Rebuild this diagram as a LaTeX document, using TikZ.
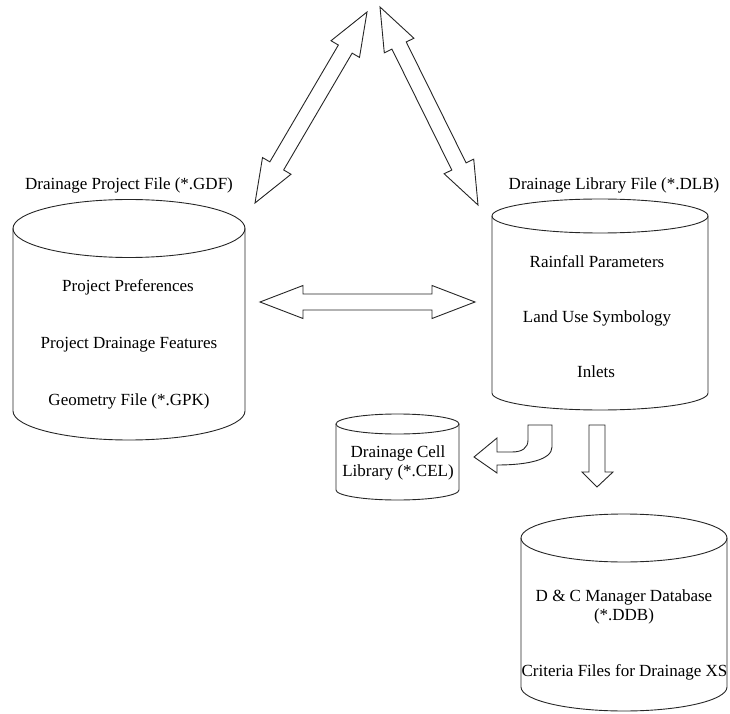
\documentclass[tikz,border=0pt]{standalone}
\usepackage{fontspec}
\setmainfont{Liberation Serif}
\usetikzlibrary{calc}

% drum: centre x, top y, bottom y, x radius, y radius
\newcommand{\drum}[5]{%
  \draw[drum] (#1,#2) ellipse [x radius=#4, y radius=#5];
  \draw[drum] (#1-#4,#2) -- (#1-#4,#3)
    arc [start angle=180, end angle=360, x radius=#4, y radius=#5]
    -- (#1+#4,#2);
}
\newcommand{\arrowhl}{43pt}
\newcommand{\arrowhw}{16.5pt}
\newcommand{\arrowsw}{8pt}
% two way block arrow between two tips
\newcommand{\twoway}[2]{%
  \draw[blockarrow] (#1)
    -- ($(#1)!\arrowhl!(#2)!\arrowhw!90:(#2)$)
    -- ($(#1)!\arrowhl!(#2)!\arrowsw!90:(#2)$)
    -- ($(#2)!\arrowhl!(#1)!\arrowsw!-90:(#1)$)
    -- ($(#2)!\arrowhl!(#1)!\arrowhw!-90:(#1)$)
    -- (#2)
    -- ($(#2)!\arrowhl!(#1)!\arrowhw!90:(#1)$)
    -- ($(#2)!\arrowhl!(#1)!\arrowsw!90:(#1)$)
    -- ($(#1)!\arrowhl!(#2)!\arrowsw!-90:(#2)$)
    -- ($(#1)!\arrowhl!(#2)!\arrowhw!-90:(#2)$)
    -- cycle;
}

\begin{document}
\begin{tikzpicture}[
  x=1pt, y=1pt,
  drum/.style={
    draw=black!85,
    line width=.9pt
  },
  blockarrow/.style={
    draw=black!85,
    fill=white,
    line width=.9pt
  },
  item/.style={
    font=\fontsize{17}{19.5}\selectfont,
    inner sep=0pt
  },
]
\useasboundingbox (0,0) rectangle (730,713);

% drums
\drum{129}{484.5}{302}{116}{29}
\drum{600}{497}{320}{108}{17}
\drum{397.5}{289}{223}{61.5}{10}
\drum{624}{175}{26}{103}{24}

% titles and contents
\node[item] (gdf) at (129,528) {Drainage Project File (*.GDF)};
\node[item] (dlb) at (614,528) {Drainage Library File (*.DLB)};
\node[item] (prefs) at (128,426) {Project Preferences};
\node[item] (feats) at (129,368) {Project Drainage Features};
\node[item] (gpk) at (129,312) {Geometry File (*.GPK)};
\node[item] (rain) at (597,451) {Rainfall Parameters};
\node[item] (landuse) at (597,395) {Land Use Symbology};
\node[item] (inlets) at (596,341) {Inlets};
\node[item, align=center] (cel) at (398,250) {Drainage Cell\\Library (*.CEL)};
\node[item, align=center] (ddb) at (624,106) {D \& C Manager Database\\(*.DDB)};
\node[item] (xs) at (624.5,41) {Criteria Files for Drainage XS};

% tips of the two way arrows
\coordinate (gdf tip) at (260,411);
\coordinate (dlb tip) at (475,411);
\coordinate (gdf up) at (255,510);
\coordinate (top left) at (367,701);
\coordinate (top right) at (380,706);
\coordinate (dlb up) at (478,508);

\twoway{gdf tip}{dlb tip}
\twoway{gdf up}{top left}
\twoway{top right}{dlb up}

% bent arrow to the cell library
\draw[blockarrow] (528,288) -- (552,288) -- (552,266)
  .. controls (552,253) and (527,248) .. (497,248)
  -- (497,240) -- (474,256) -- (497,275) -- (497,261) -- (512,261)
  .. controls (522,261) and (528,265) .. (528,273) -- cycle;

% down arrow to the database
\draw[blockarrow] (589,288) -- (605,288) -- (605,241) -- (613,241)
  -- (597,226) -- (582,241) -- (589,241) -- cycle;
\end{tikzpicture}
\end{document}
